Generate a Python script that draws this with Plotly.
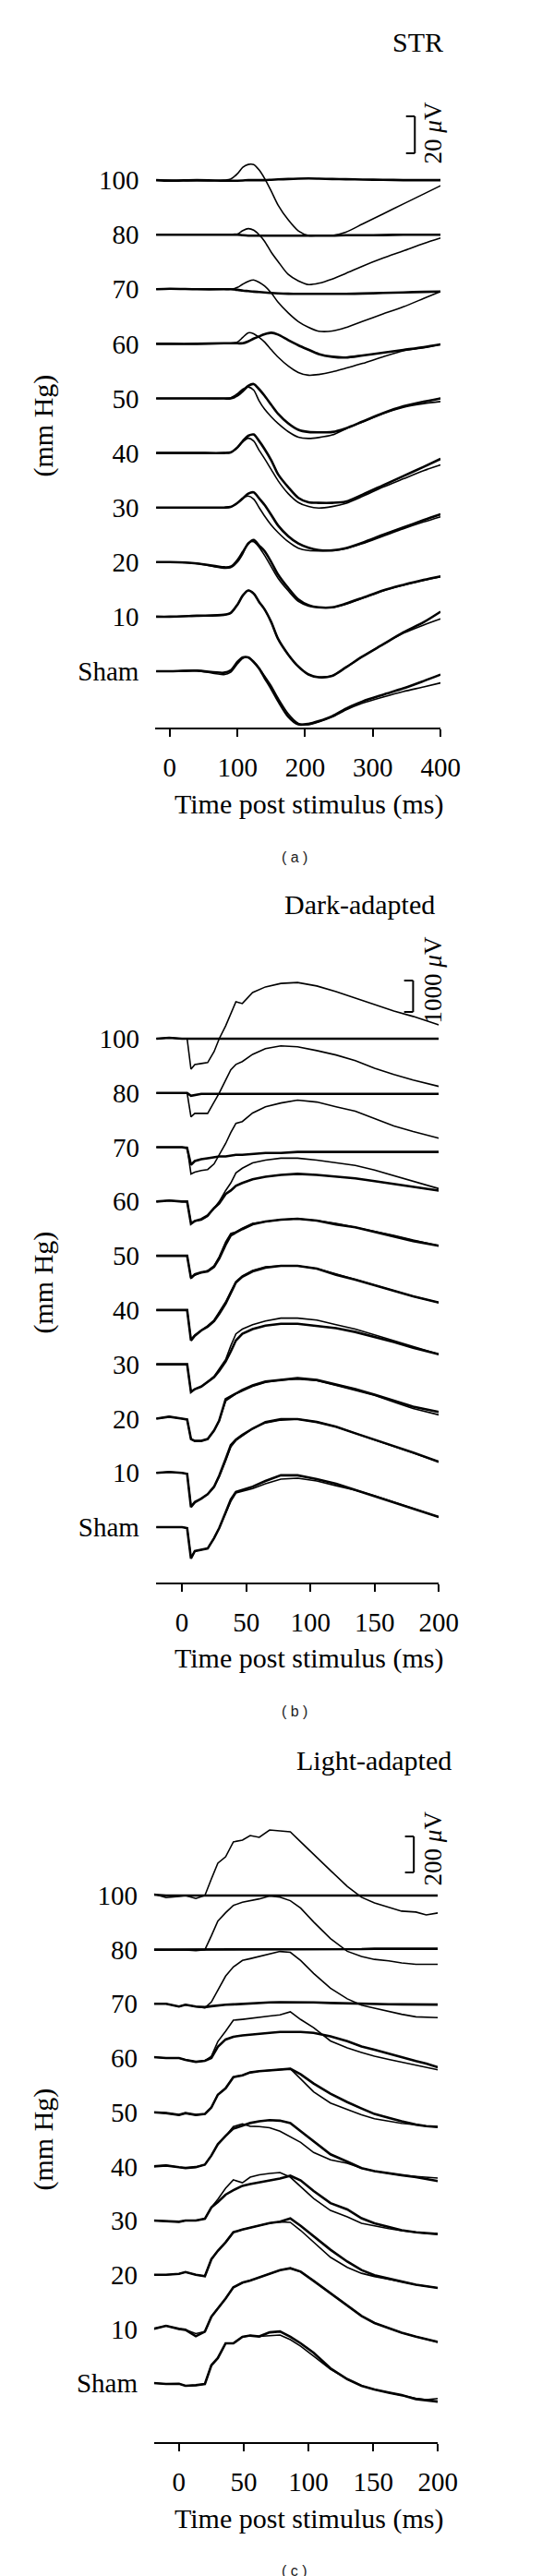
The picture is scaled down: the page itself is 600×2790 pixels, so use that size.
import numpy as np
import plotly.graph_objects as go

W, H = 600, 2790

pressures = ["100", "80", "70", "60", "50", "40", "30", "20", "10", "Sham"]

# (a) STR, time in ms, response in uV. pre = baseline (thin), iop = raised IOP (thick)
str_t = [-20, 0, 40, 80, 90, 100, 108, 116, 124, 132, 140, 150, 160, 175, 190, 205, 220, 240, 260, 285, 315, 345, 375, 400]
str_pre_100 = [0, 0, -0.3, 0, 0.5, 3.5, 7, 8.5, 8.4, 5.5, 1, -6, -13.5, -21.5, -27.5, -30, -30, -30, -28.2, -23.7, -18.3, -12.9, -7.5, -3]
str_iop_100 = [0, -0.3, 0, -0.3, -0.3, -0.3, -0.2, 0, 0, 0, 0, 0.2, 0.4, 0.6, 0.8, 0.9, 0.8, 0.6, 0.5, 0.3, 0.2, 0, 0, 0]
str_pre_80 = [0, 0, 0, 0, 0, 0.3, 2.2, 3.3, 2.5, 0, -3.5, -9.5, -14.5, -21.5, -25, -27, -26.3, -24, -21, -17, -12.7, -8.8, -4.8, -1.8]
str_iop_80 = [0, 0, 0, 0, 0, 0, -0.3, -0.5, -0.5, -0.5, -0.5, -0.5, -0.5, -0.5, -0.5, -0.5, -0.5, -0.5, -0.3, -0.3, -0.2, 0, 0, 0]
str_pre_70 = [0, 0, 0, 0, 0, 1, 2.8, 4.3, 5, 3.8, 1.8, -2, -7, -12.8, -17.5, -20.6, -22.7, -22.6, -20.7, -17.3, -13.4, -9.5, -5, -1.2]
str_iop_70 = [0, 0.3, 0, 0, 0, -0.3, -0.7, -1, -1.3, -1.5, -1.7, -2, -2.2, -2.4, -2.5, -2.5, -2.5, -2.5, -2.5, -2.3, -2, -1.7, -1.4, -1.2]
str_pre_60 = [0, 0, 0, 0.3, 0.3, 1, 3.5, 6, 5.5, 3.5, 1, -3.2, -7.2, -12, -15.5, -17, -16.6, -15.2, -13.2, -10.6, -7, -3.8, -2.2, -0.3]
str_iop_60 = [0, 0, 0, 0.3, 0.3, 0.3, 0.3, 1.3, 2.8, 4, 5.2, 6, 5, 2, -0.8, -3.2, -5.5, -7, -7.4, -6.3, -4.8, -3.3, -1.8, -0.3]
str_pre_50 = [0, 0, 0, 0, 0.3, 2.5, 5, 6.2, 4.5, -1.3, -5.8, -10, -13.6, -18, -21, -21.7, -21.2, -19.8, -16.5, -12.7, -8.2, -4.8, -2.8, -1.7]
str_iop_50 = [0, 0, 0, 0, 0, 1.5, 4, 6.8, 7.8, 5, 1.5, -3.5, -8.3, -13.5, -17, -18.2, -18.4, -18.2, -16.2, -12.5, -8, -4.3, -1.8, 0]
str_pre_40 = [0, 0, 0, 0, 0.3, 3, 6, 8, 6.5, 1.5, -3, -9, -15, -22, -26.8, -29, -29.8, -29, -27.3, -23.5, -18.5, -14, -9.6, -6.5]
str_iop_40 = [0, 0, 0, 0, 0.3, 3, 6.5, 9.3, 10, 6.5, 2.2, -4, -11.5, -18.5, -24.3, -26.7, -27, -27, -26.3, -22.5, -17.5, -12.5, -7.5, -3.2]
str_pre_30 = [0, 0, 0, 0, 0.3, 2.5, 5, 6.2, 4.5, 0, -4.5, -9.5, -13.5, -18.5, -22, -23.3, -23.5, -23.3, -22.3, -19.5, -15.5, -11.5, -7.8, -5]
str_iop_30 = [0, 0, 0, 0, 0.3, 2.5, 5, 7.5, 8.2, 5, 1.5, -4, -9.7, -15.5, -19.5, -21.8, -23, -23.2, -22, -19, -14.8, -10.8, -6.8, -3.7]
str_pre_20 = [0, 0, -0.8, -3.3, -3, 0, 4.5, 10.5, 11, 8, 3.7, -2.5, -8.7, -15.5, -21.3, -23.8, -24.6, -24.5, -22.8, -19.6, -15.6, -12.5, -9.9, -8]
str_iop_20 = [0, 0, -0.7, -2.8, -2.5, 1, 5.5, 10, 12, 9, 6, 0, -6.7, -14, -20.2, -23.3, -24.5, -24.5, -22.5, -19.3, -15.3, -12.3, -9.6, -7.7]
str_pre_10 = [0, 0, 0.5, 1, 2, 6.5, 11.5, 14.2, 12.5, 8, 4, -3, -12, -20.5, -27, -31.3, -32.8, -32, -27.5, -21.5, -15, -9, -4.5, -1.2]
str_iop_10 = [0, 0, 0.5, 1, 2, 6.5, 11.5, 14.2, 12.5, 8, 4, -3, -12, -20.5, -27, -31.3, -32.8, -32, -27.5, -21.5, -15, -8.5, -3, 2.7]
str_pre_sham = [0, 0, 0.3, -1.8, -0.5, 4, 7, 7.5, 5.2, 1.8, -2.5, -8, -14.5, -23, -28.2, -29, -27.5, -24.8, -21, -17.3, -14, -11, -8.5, -6.3]
str_iop_sham = [0, 0, 0.3, -0.8, 0.5, 5, 7.5, 7.5, 5, 1.5, -3.5, -9.5, -16, -24.5, -28.8, -28.5, -27, -24.3, -20.3, -16.3, -12.7, -9.3, -5.3, -1.8]

# (b) dark-adapted ERG
dark_t = [-20, -10, 0, 4, 7, 10, 15, 20, 25, 29, 34, 38, 42, 47, 55, 65, 77, 90, 105, 120, 135, 150, 165, 180, 200]
dark_pre_100 = [0, 30, 0, 0, -970, -820, -790, -760, -410, 0, 410, 790, 1180, 1120, 1470, 1650, 1760, 1790, 1680, 1500, 1290, 1090, 880, 710, 440]
dark_iop_100 = [0, 30, 0, 0, 0, 0, 0, 0, 0, 0, 0, 0, 0, 0, 0, 0, 0, 0, 0, 0, 0, 0, 0, 0, 0]
dark_pre_80 = [0, 0, 0, 0, -760, -650, -650, -650, -290, 0, 410, 740, 910, 1000, 1230, 1410, 1500, 1470, 1350, 1210, 1030, 790, 590, 410, 210]
dark_iop_80 = [0, 0, 0, 0, -90, -60, -30, -30, -30, -30, -30, -30, -30, -30, -30, -30, -30, -30, -30, -30, -30, -30, -30, -30, -30]
dark_pre_70 = [0, 0, 0, 0, -850, -790, -740, -710, -530, -260, 120, 470, 760, 820, 1090, 1290, 1410, 1500, 1440, 1290, 1150, 910, 680, 500, 290]
dark_iop_70 = [0, 0, 0, -30, -560, -440, -380, -350, -320, -290, -290, -260, -240, -240, -210, -180, -180, -150, -150, -150, -150, -150, -150, -150, -150]
dark_pre_60 = [0, 30, 0, 0, -680, -620, -590, -470, -210, 0, 350, 590, 910, 1060, 1230, 1320, 1380, 1380, 1320, 1230, 1150, 1000, 820, 650, 410]
dark_iop_60 = [0, 30, 0, 0, -710, -620, -560, -440, -210, -60, 240, 350, 500, 590, 710, 790, 850, 880, 850, 790, 740, 650, 560, 470, 350]
dark_pre_50 = [0, 0, 0, 0, -710, -620, -530, -470, -320, -30, 440, 710, 760, 880, 1030, 1090, 1150, 1180, 1120, 1030, 910, 790, 650, 500, 320]
dark_iop_50 = [0, 0, 0, 0, -710, -590, -530, -500, -350, -90, 350, 650, 740, 850, 1000, 1090, 1150, 1180, 1120, 1000, 910, 760, 620, 470, 320]
dark_pre_40 = [0, 0, 0, 0, -940, -790, -650, -500, -320, -60, 260, 590, 910, 1090, 1260, 1380, 1410, 1410, 1320, 1150, 970, 790, 620, 440, 240]
dark_iop_40 = [0, 0, 0, 0, -970, -820, -650, -530, -350, -120, 210, 530, 880, 1060, 1230, 1350, 1410, 1410, 1320, 1120, 970, 790, 620, 440, 240]
dark_pre_30 = [0, 0, 0, 0, -880, -790, -710, -560, -380, -150, 150, 590, 970, 1120, 1260, 1380, 1470, 1470, 1410, 1260, 1120, 940, 760, 560, 320]
dark_iop_30 = [0, 0, 0, 0, -880, -790, -710, -560, -410, -210, 90, 410, 760, 970, 1120, 1230, 1290, 1290, 1230, 1150, 1030, 880, 710, 530, 320]
dark_pre_20 = [0, 60, 0, -30, -650, -710, -710, -650, -380, -60, 560, 680, 790, 880, 1030, 1150, 1230, 1260, 1210, 1060, 910, 740, 530, 320, 120]
dark_iop_20 = [0, 60, 0, -30, -650, -710, -710, -650, -380, -60, 620, 710, 820, 910, 1060, 1180, 1230, 1290, 1230, 1090, 940, 760, 560, 380, 210]
dark_pre_10 = [0, 30, 0, -30, -1060, -910, -820, -680, -440, -120, 380, 820, 1030, 1180, 1410, 1590, 1680, 1710, 1620, 1470, 1260, 1060, 850, 650, 350]
dark_iop_10 = [0, 30, 0, -30, -1090, -940, -820, -680, -440, -90, 440, 880, 1060, 1210, 1410, 1620, 1710, 1710, 1620, 1470, 1260, 1060, 850, 650, 350]
dark_pre_sham = [0, 0, 0, -30, -970, -760, -710, -680, -350, -30, 440, 820, 1090, 1150, 1230, 1380, 1530, 1560, 1470, 1320, 1180, 1000, 790, 590, 320]
dark_iop_sham = [0, 0, 0, -30, -1000, -760, -710, -680, -350, -30, 470, 880, 1120, 1180, 1290, 1470, 1650, 1650, 1530, 1380, 1180, 1000, 790, 590, 320]

# (c) light-adapted ERG
light_t = [-20, -10, 0, 5, 13, 20, 25, 30, 36, 42, 49, 55, 62, 70, 78, 86, 94, 104, 117, 130, 141, 151, 162, 172, 183, 191, 200]
light_pre_100 = [9, -12, -5, 0, -17, 0, 92, 180, 215, 298, 308, 333, 323, 364, 359, 354, 298, 231, 139, 51, -10, -41, -67, -87, -92, -108, -97]
light_iop_100 = [5, 0, 0, 0, 0, 0, 0, 0, 0, 0, 0, 0, 0, 0, 0, 0, 0, 0, 0, 0, 0, 0, 0, 0, 0, 0, 0]
light_pre_80 = [0, 0, 0, -2, -5, 0, 77, 159, 205, 246, 264, 272, 282, 298, 292, 272, 231, 154, 62, -9, -38, -54, -62, -74, -81, -81, -81]
light_iop_80 = [0, 0, 0, 0, 0, 0, 0, 0, 0, 0, 0, 0, 0, 0, 0, 0, 0, 0, 3, 3, 3, 5, 5, 5, 5, 5, 5]
light_pre_70 = [0, 0, -15, -5, -15, -22, 10, 77, 154, 205, 241, 251, 262, 277, 291, 286, 241, 169, 87, 28, -7, -24, -42, -58, -72, -75, -77]
light_iop_70 = [0, 0, -15, -5, -15, -18, -13, -8, -5, -3, 0, 3, 5, 8, 9, 9, 9, 8, 5, 4, 2, 0, -2, -3, -4, -4, -4]
light_pre_60 = [5, 0, 0, -10, -21, -15, 10, 92, 149, 210, 215, 221, 228, 233, 240, 257, 214, 169, 95, 56, 31, 10, -8, -23, -37, -49, -65]
light_iop_60 = [5, 0, 0, -10, -21, -15, 0, 62, 103, 118, 126, 131, 135, 140, 145, 145, 145, 140, 120, 94, 64, 46, 23, 6, -17, -31, -51]
light_pre_50 = [0, -5, -15, -5, -15, -10, 26, 97, 133, 195, 205, 221, 228, 233, 236, 241, 185, 113, 51, 15, -15, -36, -51, -62, -69, -77, -82]
light_iop_50 = [0, -5, -15, -5, -15, -10, 26, 97, 133, 195, 205, 221, 228, 233, 236, 241, 210, 159, 103, 56, 21, -10, -31, -51, -69, -77, -82]
light_pre_40 = [0, 5, -5, -9, -4, 10, 60, 123, 169, 221, 236, 223, 221, 215, 195, 163, 133, 77, 36, 17, -10, -26, -40, -49, -56, -62, -65]
light_iop_40 = [0, 5, -5, -9, -4, 10, 60, 123, 169, 210, 226, 241, 251, 257, 254, 240, 195, 139, 67, 26, -10, -26, -40, -49, -60, -72, -82]
light_pre_30 = [0, -5, -7, 0, 0, 10, 73, 118, 180, 226, 210, 241, 254, 262, 267, 241, 190, 123, 56, 21, -15, -31, -45, -56, -65, -71, -75]
light_iop_30 = [0, -5, -7, 0, 0, 10, 73, 103, 144, 169, 193, 203, 213, 223, 233, 249, 223, 164, 97, 62, 13, -15, -36, -54, -65, -71, -75]
light_pre_20 = [0, 0, 5, 15, 0, -8, 86, 133, 180, 236, 251, 262, 274, 287, 294, 291, 246, 180, 97, 41, 8, -10, -23, -38, -55, -64, -73]
light_iop_20 = [0, 0, 5, 15, 0, -8, 86, 133, 180, 236, 251, 262, 274, 287, 295, 313, 272, 215, 139, 73, 26, -3, -23, -38, -55, -64, -73]
light_pre_10 = [0, 17, 0, -5, -26, -15, 68, 113, 169, 231, 257, 269, 287, 308, 326, 337, 318, 267, 198, 126, 72, 33, 5, -21, -43, -56, -73]
light_iop_10 = [0, 17, 0, -5, -41, -15, 68, 113, 169, 231, 257, 269, 287, 308, 326, 337, 318, 267, 198, 126, 72, 33, 5, -21, -43, -56, -73]
light_pre_sham = [0, -5, -4, -15, -12, -5, 99, 139, 221, 221, 257, 264, 259, 262, 267, 241, 205, 150, 77, 22, -15, -36, -53, -67, -85, -92, -86]
light_iop_sham = [0, -5, -4, -15, -12, -5, 99, 139, 221, 221, 257, 264, 259, 282, 287, 257, 221, 168, 82, 22, -15, -36, -53, -67, -89, -97, -103]

# scale bar sizes (uV)
scale_bars = [20, 1000, 200]


def xp(p):
    return p / W


def yp(p):
    return 1 - p / H


panels = [
    dict(t=str_t,
         pre=[str_pre_100, str_pre_80, str_pre_70, str_pre_60, str_pre_50, str_pre_40, str_pre_30, str_pre_20, str_pre_10, str_pre_sham],
         iop=[str_iop_100, str_iop_80, str_iop_70, str_iop_60, str_iop_50, str_iop_40, str_iop_30, str_iop_20, str_iop_10, str_iop_sham],
         step=29.55, shape="spline", xdom=(166.5, 487), ydom=(95, 780), xr=(-21, 400), yr=(-30.5, 312),
         ticks=[0, 100, 200, 300, 400], bar_x=(349, 362), bar_top=300.5, bar_ty=136,
         title="STR", title_x=492, title_y=37, letter="( a )", letter_y=920, xt_y=863, yt_y=453),
    dict(t=dark_t,
         pre=[dark_pre_100, dark_pre_80, dark_pre_70, dark_pre_60, dark_pre_50, dark_pre_40, dark_pre_30, dark_pre_20, dark_pre_10, dark_pre_sham],
         iop=[dark_iop_100, dark_iop_80, dark_iop_70, dark_iop_60, dark_iop_50, dark_iop_40, dark_iop_30, dark_iop_20, dark_iop_10, dark_iop_sham],
         step=1728, shape="linear", xdom=(167, 485), ydom=(1000, 1706), xr=(-20.3, 200), yr=(-1764, 18992),
         ticks=[0, 50, 100, 150, 200], bar_x=(173, 180), bar_top=17405, bar_ty=1053,
         title="Dark-adapted", title_x=483, title_y=971, letter="( b )", letter_y=1845, xt_y=1788, yt_y=1381),
    dict(t=light_t,
         pre=[light_pre_100, light_pre_80, light_pre_70, light_pre_60, light_pre_50, light_pre_40, light_pre_30, light_pre_20, light_pre_10, light_pre_sham],
         iop=[light_iop_100, light_iop_80, light_iop_70, light_iop_60, light_iop_50, light_iop_40, light_iop_30, light_iop_20, light_iop_10, light_iop_sham],
         step=301, shape="linear", xdom=(165, 484), ydom=(1920, 2637), xr=(-19.2, 200), yr=(-328, 3350),
         ticks=[0, 50, 100, 150, 200], bar_x=(174.6, 181.4), bar_top=3037, bar_ty=1994,
         title="Light-adapted", title_x=501, title_y=1898, letter="( c )", letter_y=2776, xt_y=2720, yt_y=2309),
]

serif = "Liberation Serif"
ink = "#000000"

fig = go.Figure()
annotations = []
shapes = []
layout_axes = {}

for k, p in enumerate(panels):
    n = "" if k == 0 else str(k + 1)
    xa, ya = "x" + n, "y" + n
    offsets = [(9 - i) * p["step"] for i in range(10)]

    for i in range(10):
        for vals, width in ((p["pre"][i], 1.6), (p["iop"][i], 2.6)):
            line = dict(color=ink, width=width, shape=p["shape"])
            if p["shape"] == "spline":
                line["smoothing"] = 0.8
            fig.add_trace(go.Scatter(x=p["t"], y=np.array(vals) + offsets[i], mode="lines",
                                     line=line, xaxis=xa, yaxis=ya,
                                     hoverinfo="skip", showlegend=False))

    layout_axes["xaxis" + n] = dict(
        domain=[xp(p["xdom"][0]), xp(p["xdom"][1])], range=list(p["xr"]), anchor=ya,
        showgrid=False, zeroline=False, showline=True, linecolor=ink, linewidth=1.8,
        ticks="outside", ticklen=8, tickwidth=1.8, tickcolor=ink,
        tickvals=p["ticks"], tickfont=dict(family=serif, size=29, color=ink),
        ticklabelstandoff=8, fixedrange=True)
    layout_axes["yaxis" + n] = dict(
        domain=[yp(p["ydom"][1]), yp(p["ydom"][0])], range=list(p["yr"]), anchor=xa,
        showgrid=False, zeroline=False, showline=False, ticks="",
        tickvals=offsets, ticktext=pressures, tickfont=dict(family=serif, size=29, color=ink),
        ticklabelstandoff=17, fixedrange=True)

    # scale bar
    bx0, bx1 = p["bar_x"]
    top = p["bar_top"]
    bot = top - scale_bars[k]
    for x0, y0, x1, y1 in ((bx1, bot, bx1, top), (bx0, top, bx1, top), (bx0, bot, bx1, bot)):
        shapes.append(dict(type="line", xref=xa, yref=ya, x0=x0, y0=y0, x1=x1, y1=y1,
                           line=dict(color=ink, width=2)))
    annotations.append(dict(text=f"{scale_bars[k]} <i>μ</i>V", textangle=-90, x=xp(479), y=yp(p["bar_ty"]),
                            xref="paper", yref="paper", showarrow=False, xanchor="center", yanchor="middle",
                            font=dict(family=serif, size=27, color=ink)))

    annotations.append(dict(text=p["title"], x=xp(p["title_x"]), y=yp(p["title_y"]), xref="paper", yref="paper",
                            showarrow=False, xanchor="right", yanchor="middle",
                            font=dict(family=serif, size=30, color=ink)))
    annotations.append(dict(text="Time post stimulus (ms)", x=xp(339), y=yp(p["xt_y"]), xref="paper", yref="paper",
                            showarrow=False, xanchor="center", yanchor="middle",
                            font=dict(family=serif, size=30, color=ink)))
    annotations.append(dict(text="(mm Hg)", textangle=-90, x=xp(40), y=yp(p["yt_y"]), xref="paper", yref="paper",
                            showarrow=False, xanchor="center", yanchor="middle",
                            font=dict(family=serif, size=30, color=ink)))
    annotations.append(dict(text=p["letter"], x=xp(323), y=yp(p["letter_y"]), xref="paper", yref="paper",
                            showarrow=False, xanchor="center", yanchor="middle",
                            font=dict(family="Liberation Sans", size=16, color="#222222")))

fig.update_layout(width=W, height=H, margin=dict(l=0, r=0, t=0, b=0),
                  paper_bgcolor="white", plot_bgcolor="white", showlegend=False,
                  annotations=annotations, shapes=shapes, **layout_axes)

fig.write_html("out.html")
